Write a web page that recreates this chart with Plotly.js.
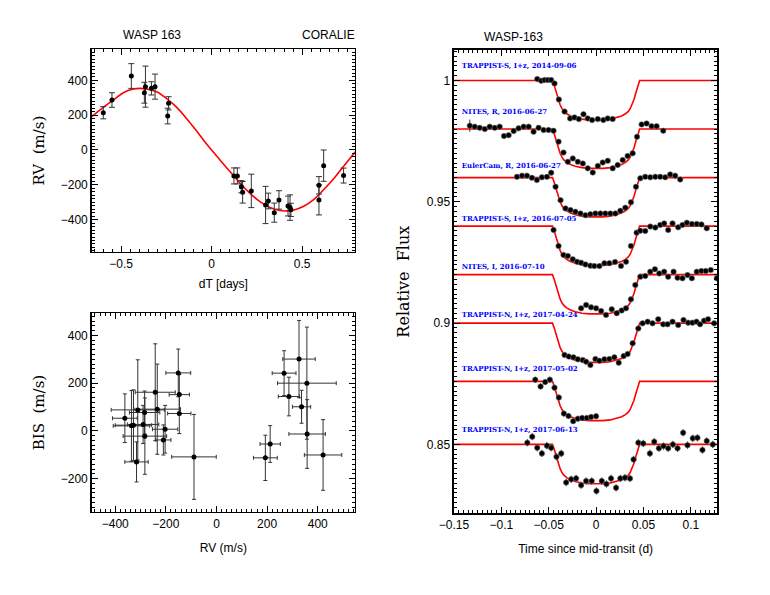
<!DOCTYPE html>
<html>
<head>
<meta charset="utf-8">
<script src="https://cdn.plot.ly/plotly-3.0.1.min.js"></script>
<style>
  html, body { margin: 0; padding: 0; background: #fff; }
  #chart { width: 770px; height: 595px; }
</style>
</head>
<body>
<div id="chart"></div>
<script>
// --- CORALIE radial velocities vs phase time (days)
const rvT = [-0.599, -0.551, -0.444, -0.372, -0.366, -0.333, -0.313, -0.243, -0.238, 0.123, 0.142, 0.164, 0.171,
  0.219, 0.298, 0.313, 0.346, 0.372, 0.422, 0.433, 0.438, 0.593, 0.593, 0.619, 0.729];
const rvV = [214, 287, 425, 329, 364, 354, 364, 195, 268, -149, -149, -211, -243,
  -235, -316, -293, -360, -287, -322, -331, -344, -203, -287, -90, -147];
const rvErr = [35, 42, 71, 60, 118, 38, 72, 45, 38, 46, 46, 35, 62,
  96, 107, 45, 55, 53, 57, 73, 38, 50, 86, 90, 43];

// fitted orbit
const rvModelT = [-0.663, -0.599, -0.543, -0.488, -0.433, -0.396, -0.359, -0.304, -0.249, -0.193, -0.138, -0.083, -0.028,
  0.046, 0.101, 0.157, 0.212, 0.267, 0.322, 0.378, 0.414, 0.451, 0.506, 0.562, 0.617, 0.672, 0.727, 0.794];
const rvModelV = [191, 245, 287, 329, 350, 354, 350, 335, 295, 245, 180, 109, 34,
  -57, -124, -191, -249, -297, -331, -348, -350, -346, -325, -287, -230, -168, -96, -10];

// --- bisector spans vs RV
const bisRV = [-362, -336, -328, -316, -311, -290, -284, -283, -242, -234, -210, -203, -151,
  -147, -147, -89, 193, 212, 267, 286, 326, 336, 357, 358, 421];
const bisRVErr = [49, 72, 72, 46, 105, 62, 60, 86, 79, 92, 30, 50, 49,
  40, 46, 88, 47, 40, 47, 42, 64, 36, 116, 72, 74];
const bisV = [53, 21, 24, -130, 88, 27, 77, -22, 162, 91, -38, 7, 243,
  152, 73, -109, -113, -55, 242, 144, 301, 101, 200, -13, -101];
const bisErr = [102, 148, 148, 84, 210, 80, 90, 160, 203, 189, 63, 100, 100,
  84, 84, 178, 95, 77, 94, 81, 162, 69, 235, 144, 148];

// --- transit light curves
const lcLabels = ['TRAPPIST-S, I+z, 2014-09-06', 'NITES, R, 2016-06-27', 'EulerCam, R, 2016-06-27',
  'TRAPPIST-S, I+z, 2016-07-05', 'NITES, I, 2016-07-10', 'TRAPPIST-N, I+z, 2017-04-24',
  'TRAPPIST-N, I+z, 2017-05-02', 'TRAPPIST-N, I+z, 2017-06-13'];
const lcOffsets = [0, -0.02, -0.04, -0.06, -0.08, -0.10, -0.124, -0.15];
const lcErr = [0.0005, 0.0006, 0.0004, 0.0006, 0.0008, 0.0006, 0.0012, 0.0015];

const lcTime = [
  [-0.0621, -0.0579, -0.0544, -0.0509, -0.0474, -0.0439, -0.0393, -0.0333, -0.0274, -0.0228, -0.0182, -0.0133,
    -0.0088, -0.0042, 0.0018, 0.0077, 0.0123, 0.0175],
  [-0.1333, -0.1281, -0.1228, -0.1175, -0.1123, -0.1070, -0.1018, -0.0972, -0.0923, -0.0870, -0.0818, -0.0765,
    -0.0712, -0.0660, -0.0607, -0.0554, -0.0502, -0.0449, -0.0396, -0.0344, -0.0298, -0.0246, -0.0193, -0.0140,
    -0.0088, -0.0035, 0.0018, 0.0070, 0.0123, 0.0175, 0.0228, 0.0281, 0.0333, 0.0386, 0.0432, 0.0481, 0.0533,
    0.0586, 0.0639, 0.0709],
  [-0.0835, -0.0782, -0.0730, -0.0677, -0.0625, -0.0572, -0.0519, -0.0474, -0.0428, -0.0375, -0.0323, -0.0270,
    -0.0218, -0.0165, -0.0112, -0.0060, -0.0007, 0.0046, 0.0098, 0.0151, 0.0204, 0.0256, 0.0309, 0.0368, 0.0421,
    0.0467, 0.0519, 0.0572, 0.0625, 0.0677, 0.0730, 0.0782, 0.0835, 0.0888],
  [-0.0449, -0.0396, -0.0344, -0.0298, -0.0246, -0.0200, -0.0158, -0.0112, -0.0060, -0.0018, 0.0035, 0.0088,
    0.0140, 0.0200, 0.0263, 0.0316, 0.0368, 0.0428, 0.0467, 0.0519, 0.0572, 0.0625, 0.0677, 0.0719, 0.0761,
    0.0807, 0.0867, 0.0912, 0.0958, 0.1011, 0.1063, 0.1112, 0.1168],
  [-0.0158, -0.0105, -0.0053, 0.0000, 0.0053, 0.0105, 0.0165, 0.0218, 0.0270, 0.0316, 0.0368, 0.0414, 0.0467,
    0.0519, 0.0572, 0.0621, 0.0667, 0.0719, 0.0761, 0.0818, 0.0860, 0.0912, 0.0965, 0.1011, 0.1063, 0.1112,
    0.1158, 0.1211, 0.1274],
  [-0.0333, -0.0288, -0.0239, -0.0193, -0.0140, -0.0105, -0.0060, -0.0007, 0.0035, 0.0088, 0.0140, 0.0193,
    0.0239, 0.0291, 0.0333, 0.0386, 0.0446, 0.0491, 0.0544, 0.0596, 0.0656, 0.0709, 0.0754, 0.0807, 0.0867,
    0.0923, 0.0972, 0.1018, 0.1060, 0.1098, 0.1140, 0.1182, 0.1246],
  [-0.0642, -0.0586, -0.0537, -0.0488, -0.0439, -0.0393, -0.0340, -0.0291, -0.0242, -0.0193, -0.0147, -0.0098,
    -0.0053, 0.0000],
  [-0.0726, -0.0674, -0.0621, -0.0572, -0.0519, -0.0474, -0.0418, -0.0368, -0.0316, -0.0263, -0.0211, -0.0158,
    -0.0105, -0.0046, 0.0004, 0.0060, 0.0109, 0.0158, 0.0211, 0.0256, 0.0305, 0.0358, 0.0396, 0.0446, 0.0498,
    0.0568, 0.0614, 0.0663, 0.0712, 0.0761, 0.0811, 0.0860, 0.0919, 0.0965, 0.1021, 0.1070, 0.1123, 0.1168, 0.1232]
];
const lcFlux = [
  [1.0006, 0.9999, 1.0002, 1.0002, 1.0002, 0.9988, 0.9922, 0.9872, 0.9844, 0.9848, 0.9841, 0.9861,
    0.9844, 0.9837, 0.9841, 0.9837, 0.9844, 0.9841],
  [1.0014, 1.0010, 1.0005, 1.0000, 1.0010, 1.0005, 1.0010, 0.9971, 0.9975, 0.9992, 1.0003, 1.0010,
    1.0010, 0.9989, 1.0005, 0.9996, 0.9996, 0.9993, 0.9948, 0.9903, 0.9865, 0.9879, 0.9865, 0.9858,
    0.9838, 0.9821, 0.9848, 0.9862, 0.9869, 0.9838, 0.9852, 0.9872, 0.9889, 0.9900, 0.9968, 1.0019, 1.0023,
    1.0012, 1.0012, 0.9993],
  [1.0003, 1.0008, 1.0008, 0.9999, 0.9990, 1.0001, 1.0003, 1.0020, 0.9962, 0.9907, 0.9873, 0.9866,
    0.9859, 0.9852, 0.9845, 0.9849, 0.9852, 0.9852, 0.9852, 0.9852, 0.9852, 0.9863, 0.9876, 0.9898, 0.9962,
    0.9997, 1.0003, 1.0001, 1.0003, 1.0003, 1.0001, 1.0013, 1.0008, 0.9992],
  [0.9984, 0.9918, 0.9881, 0.9877, 0.9863, 0.9853, 0.9849, 0.9842, 0.9837, 0.9835, 0.9835, 0.9847,
    0.9847, 0.9852, 0.9836, 0.9853, 0.9918, 0.9973, 0.9981, 0.9980, 0.9998, 0.9994, 1.0005, 1.0011, 0.9984,
    1.0011, 0.9995, 1.0005, 1.0014, 1.0009, 1.0009, 1.0007, 0.9991],
  [0.9861, 0.9875, 0.9865, 0.9861, 0.9850, 0.9834, 0.9857, 0.9841, 0.9852, 0.9861, 0.9898, 0.9957, 0.9991,
    0.9994, 1.0012, 1.0022, 1.0005, 1.0012, 0.9991, 1.0012, 0.9987, 0.9985, 0.9998, 0.9985, 1.0012, 1.0015,
    1.0015, 1.0019, 0.9985],
  [0.9869, 0.9862, 0.9859, 0.9851, 0.9848, 0.9841, 0.9827, 0.9852, 0.9845, 0.9851, 0.9852, 0.9859,
    0.9837, 0.9864, 0.9873, 0.9917, 0.9978, 0.9999, 1.0006, 0.9999, 1.0016, 0.9995, 0.9995, 1.0006, 0.9992,
    1.0013, 1.0002, 1.0002, 1.0006, 0.9995, 1.0010, 1.0016, 0.9999],
  [1.0007, 0.9979, 0.9997, 1.0007, 0.9974, 0.9933, 0.9867, 0.9857, 0.9836, 0.9846, 0.9849, 0.9849,
    0.9853, 0.9856],
  [1.0007, 1.0032, 0.9986, 0.9963, 0.9995, 0.9986, 0.9949, 0.9963, 0.9843, 0.9856, 0.9860, 0.9832,
    0.9849, 0.9849, 0.9808, 0.9849, 0.9837, 0.9860, 0.9821, 0.9860, 0.9863, 0.9860, 0.9938, 1.0007, 1.0004,
    0.9963, 1.0011, 0.9984, 0.9993, 0.9984, 1.0000, 0.9984, 1.0048, 0.9997, 1.0025, 1.0027, 0.9977, 1.0014, 1.0000]
];

// transit model (same shape for every night)
const modelT = [-0.15, -0.046, -0.044, -0.042, -0.040, -0.038, -0.036, -0.034, -0.031, -0.027, -0.022, -0.015, -0.007,
  0, 0.007, 0.015, 0.022, 0.027, 0.031, 0.034, 0.036, 0.038, 0.040, 0.042, 0.044, 0.046, 0.13];
const modelF = [1, 1, 0.9978, 0.9950, 0.9922, 0.9900, 0.9884, 0.9873, 0.9863, 0.9854, 0.9847, 0.9841, 0.9838,
  0.9837, 0.9838, 0.9841, 0.9847, 0.9854, 0.9863, 0.9873, 0.9884, 0.9900, 0.9922, 0.9950, 0.9978, 1, 1];

const sans = 'Liberation Sans, Arial, Helvetica, sans-serif';
const serif = 'DejaVu Serif, Liberation Serif, serif';

const traces = [];

traces.push({
  x: rvModelT, y: rvModelV, xaxis: 'x', yaxis: 'y',
  mode: 'lines', line: { color: '#ff0000', width: 1.6, shape: 'spline' },
  hoverinfo: 'skip'
});
traces.push({
  x: rvT, y: rvV, xaxis: 'x', yaxis: 'y',
  mode: 'markers', type: 'scatter',
  marker: { color: 'black', size: 5 },
  error_y: { type: 'data', array: rvErr, color: '#333', thickness: 1, width: 3 }
});

traces.push({
  x: bisRV, y: bisV, xaxis: 'x2', yaxis: 'y2',
  mode: 'markers', type: 'scatter',
  marker: { color: 'black', size: 5 },
  error_x: { type: 'data', array: bisRVErr, color: '#333', thickness: 1, width: 2 },
  error_y: { type: 'data', array: bisErr, color: '#333', thickness: 1, width: 2 }
});

// dataset captions sit under the points, so draw them first as a text trace
traces.push({
  x: lcLabels.map(() => -0.1418), y: [1.0060, 0.9869, 0.9648, 0.9429, 0.9230, 0.9033, 0.8810, 0.8559],
  xaxis: 'x3', yaxis: 'y3', mode: 'text', text: lcLabels.map(t => '<b>' + t + '</b>'),
  textposition: 'middle right', textfont: { family: serif, size: 7, color: '#0000ff' },
  hoverinfo: 'skip'
});

lcOffsets.forEach((off, i) => {
  traces.push({
    x: modelT, y: modelF.map(f => f + off), xaxis: 'x3', yaxis: 'y3',
    mode: 'lines', line: { color: '#ff0000', width: 1.6 },
    hoverinfo: 'skip'
  });
  traces.push({
    x: lcTime[i], y: lcFlux[i].map(f => f + off), xaxis: 'x3', yaxis: 'y3',
    mode: 'markers', type: 'scatter', name: lcLabels[i],
    marker: { color: 'black', size: 5.5, line: { color: '#777', width: 0.6 } },
    error_y: { type: 'data', array: lcFlux[i].map((_, k) => (i === 1 && k === 0) ? 0.0025 : lcErr[i]),
      color: '#333', thickness: 1, width: 0 }
  });
});

// ticklabelstandoff hides the major ticks, so it is left out
const axisBase = (extra) => Object.assign({
  showline: true, linecolor: 'black', linewidth: 1.5, mirror: 'allticks',
  ticks: 'inside', ticklen: 6, tickwidth: 1, tickcolor: 'black',
  showgrid: false, zeroline: false,
  tickfont: { family: sans, size: 12, color: 'black' }
}, extra);
const minor = (d) => ({ ticks: 'inside', ticklen: 3, tickwidth: 1, tickcolor: 'black', dtick: d, showgrid: false });

const layout = {
  width: 770, height: 595,
  margin: { l: 0, r: 0, t: 0, b: 0 },
  paper_bgcolor: 'white', plot_bgcolor: 'white',
  showlegend: false,
  font: { family: sans, size: 12, color: 'black' },
  xaxis: axisBase({
    domain: [0.1191, 0.4610], range: [-0.663, 0.792], anchor: 'y',
    dtick: 0.5, tick0: 0, minor: minor(0.05),
    title: { text: 'dT [days]', font: { family: sans, size: 12 }, standoff: 9 }
  }),
  yaxis: axisBase({
    domain: [0.5765, 0.9176], range: [-586, 580], anchor: 'x',
    dtick: 200, tick0: 0, minor: minor(20),
    title: { text: 'RV  (m/s)', font: { family: serif, size: 15 }, standoff: 12 }
  }),
  xaxis2: axisBase({
    domain: [0.1191, 0.4610], range: [-493, 547], anchor: 'y2',
    dtick: 200, tick0: 0, minor: minor(20),
    title: { text: 'RV (m/s)', font: { family: sans, size: 12 }, standoff: 13 }
  }),
  yaxis2: axisBase({
    domain: [0.1395, 0.4739], range: [-340, 494], anchor: 'x2',
    dtick: 200, tick0: 0, minor: minor(20),
    title: { text: 'BIS  (m/s)', font: { family: serif, size: 15 }, standoff: 12 }
  }),
  xaxis3: axisBase({
    domain: [0.5896, 0.9316], range: [-0.15, 0.128], anchor: 'y3',
    dtick: 0.05, tick0: 0, minor: minor(0.005),
    title: { text: 'Time since mid-transit (d)', font: { family: sans, size: 12 }, standoff: 13 }
  }),
  yaxis3: axisBase({
    domain: [0.1373, 0.9160], range: [0.8216, 1.0126], anchor: 'x3',
    dtick: 0.05, tick0: 0, minor: minor(0.002),
    title: { text: 'Relative  Flux', font: { family: serif, size: 16 }, standoff: 13 }
  }),
  annotations: [
    { text: 'WASP 163', xref: 'paper', yref: 'paper', x: 0.197, y: 0.941, showarrow: false,
      xanchor: 'center', yanchor: 'middle', font: { family: sans, size: 12 } },
    { text: 'CORALIE', xref: 'paper', yref: 'paper', x: 0.4636, y: 0.941, showarrow: false,
      xanchor: 'right', yanchor: 'middle', font: { family: sans, size: 12 } },
    { text: 'WASP-163', xref: 'paper', yref: 'paper', x: 0.6675, y: 0.938, showarrow: false,
      xanchor: 'center', yanchor: 'middle', font: { family: sans, size: 12 } }
  ]
};

Plotly.newPlot('chart', traces, layout, { displayModeBar: false, staticPlot: true });
</script>
</body>
</html>
